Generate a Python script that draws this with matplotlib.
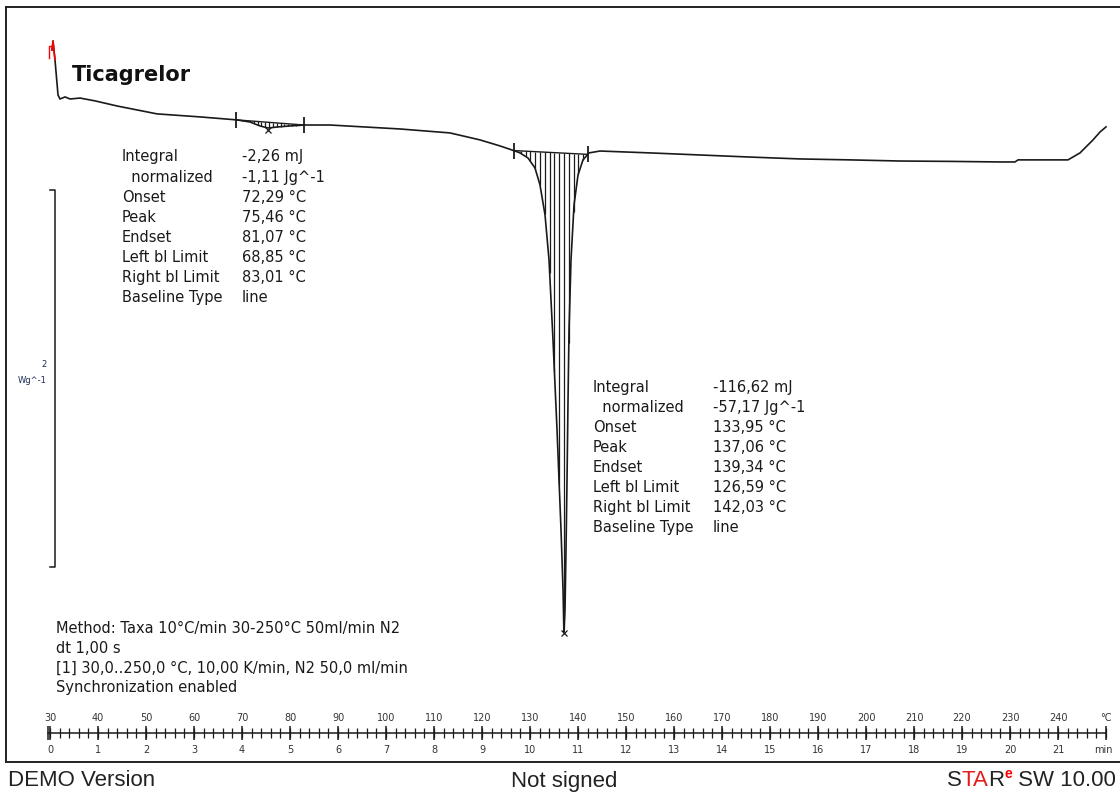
import numpy as np
import matplotlib
matplotlib.use('Agg')
import matplotlib.pyplot as plt

# DSC curve: temperature (°C) and heat flow (W/g)
temp = [30.42, 30.63, 31.04, 31.67, 32.08, 33.13, 34.17, 36.25, 39.38, 43.96,
        52.29, 61.25, 68.96, 71.67, 73.75, 75.46, 77.50, 80.00, 83.13, 88.33,
        102.92, 113.33, 119.58, 123.75, 126.88, 127.92, 129.58, 131.04, 132.08,
        133.13, 133.96, 134.79, 135.63, 136.46, 136.88, 137.06, 137.29, 137.50,
        137.71, 137.92, 138.13, 138.54, 139.17, 140.00, 141.04, 142.29, 144.58,
        155.00, 165.42, 175.83, 186.25, 196.67, 207.08, 217.50, 227.92, 231.04,
        231.67, 242.08, 244.58, 247.29, 248.75, 250.00]
heat_flow = [0.541, 0.589, 0.488, 0.302, 0.281, 0.292, 0.281, 0.286, 0.271, 0.244,
             0.202, 0.186, 0.170, 0.159, 0.138, 0.127, 0.133, 0.138, 0.143, 0.143,
             0.122, 0.101, 0.064, 0.032, 0.005, -0.005, -0.032, -0.085, -0.175,
             -0.334, -0.573, -0.997, -1.475, -2.005, -2.324, -2.546, -2.430, -2.111,
             -1.740, -1.316, -0.944, -0.573, -0.281, -0.122, -0.042, -0.005, 0.005,
             -0.005, -0.016, -0.027, -0.037, -0.042, -0.048, -0.050, -0.053, -0.053,
             -0.042, -0.042, -0.005, 0.064, 0.106, 0.133]

# integration results (left limit, right limit, peak)
peak1 = (68.85, 83.01, 75.46)
peak2 = (126.59, 142.03, 137.06)

labels = ['Integral', '  normalized', 'Onset', 'Peak', 'Endset',
          'Left bl Limit', 'Right bl Limit', 'Baseline Type']
values1 = ['-2,26 mJ', '-1,11 Jg^-1', '72,29 °C', '75,46 °C', '81,07 °C',
           '68,85 °C', '83,01 °C', 'line']
values2 = ['-116,62 mJ', '-57,17 Jg^-1', '133,95 °C', '137,06 °C', '139,34 °C',
           '126,59 °C', '142,03 °C', 'line']
method_lines = ['Method: Taxa 10°C/min 30-250°C 50ml/min N2',
                'dt 1,00 s',
                '[1] 30,0..250,0 °C, 10,00 K/min, N2 50,0 ml/min',
                'Synchronization enabled']

temp_ticks = np.arange(30, 241, 10)
minute_labels = [str(m) for m in range(0, 22)]
scale_bar = 2.0  # W/g

W, H = 1120, 794
fig = plt.figure(figsize=(W / 100, H / 100), dpi=100)
# frame box: left 6px, top 7px, bottom 762px, right edge outside the picture
ax = fig.add_axes([6 / W, (H - 762) / H, 1116 / W, 755 / H])
ax.set_xlim(20.833, 253.33)
ax.set_ylim(-3.236, 0.769)
ax.set_xticks([])
ax.set_yticks([])
for s in ax.spines.values():
    s.set_linewidth(1.4)
    s.set_color('#222222')

ink = '#1a1a1a'
T = np.array(temp)
Q = np.array(heat_flow)

ax.plot(T, Q, color=ink, lw=1.2, solid_joinstyle='round')
ax.plot(T[:3], Q[:3], color='red', lw=1.1)
ax.plot([29.75, 29.75, 30.2], [0.50, 0.56, 0.56], color='red', lw=1.0)


def integrate(ax, left, right, peak, step):
    yl = np.interp(left, T, Q)
    yr = np.interp(right, T, Q)
    ax.plot([left, right], [yl, yr], color=ink, lw=1.0)
    xs = np.arange(left + step / 2, right, step)
    base = yl + (yr - yl) * (xs - left) / (right - left)
    curve = np.interp(xs, T, Q)
    ax.vlines(xs, curve, base, color=ink, lw=0.9)
    ax.plot([left, right], [yl, yr], ls='none', marker='|', ms=11, mew=1.3, color=ink)
    ax.plot([peak], [np.interp(peak, T, Q) - 0.008], ls='none', marker='x', ms=4,
            mew=0.9, color=ink)


integrate(ax, *peak1, step=0.8)
integrate(ax, *peak2, step=1.0)

# scale bar (2 W/g)
bar_top = -0.202
ax.plot([30.0, 31.04, 31.04, 30.0], [bar_top, bar_top, bar_top - scale_bar, bar_top - scale_bar],
        color=ink, lw=1.1)
ax.text(29.3, -1.13, '2', ha='right', va='center', fontsize=6, color='#1a2a55')
ax.text(29.3, -1.21, 'Wg^-1', ha='right', va='center', fontsize=6, color='#1a2a55')

fig.text(72 / W, 1 - 75 / H, 'Ticagrelor', fontsize=15, fontweight='bold',
         color='#111111', va='center', ha='left')


def block(x_lab, x_val, y0, labels, values):
    for i, (l, v) in enumerate(zip(labels, values)):
        y = 1 - (y0 + 20.1 * i) / H
        fig.text(x_lab / W, y, l, fontsize=10.5, color=ink, va='center')
        fig.text(x_val / W, y, v, fontsize=10.5, color=ink, va='center')


block(122, 242, 157, labels, values1)
block(593, 713, 387, labels, values2)

for i, line in enumerate(method_lines):
    fig.text(56 / W, 1 - (629 + 19.6 * i) / H, line, fontsize=10.5, color=ink, va='center')

# time / temperature ruler
xt = ax.get_xaxis_transform()
ry = (762 - 733) / 755
ax.plot([29.6, 250.0], [ry, ry], color=ink, lw=1.1, transform=xt)
minor = np.arange(30, 251, 2)
ax.vlines(minor, ry - 0.006, ry + 0.006, color=ink, lw=0.9, transform=xt)
ax.vlines(temp_ticks, ry - 0.0088, ry + 0.0088, color=ink, lw=1.1, transform=xt)
ax.vlines([29.6, 250.0], ry - 0.0088, ry + 0.0088, color=ink, lw=1.1, transform=xt)
for t, m in zip(temp_ticks, minute_labels):
    ax.text(t, (762 - 718) / 755, str(t), ha='center', va='center', fontsize=7,
            color='#333333', transform=xt)
    ax.text(t, (762 - 750) / 755, m, ha='center', va='center', fontsize=7,
            color='#333333', transform=xt)
ax.text(250.0, (762 - 718) / 755, '°C', ha='center', va='center', fontsize=7,
        color='#333333', transform=xt)
ax.text(249.4, (762 - 750) / 755, 'min', ha='center', va='center', fontsize=7,
        color='#333333', transform=xt)

# footer
foot = dict(fontsize=16, family='Liberation Sans', color='#222222', va='center')
fig.text(8 / W, 1 - 781 / H, 'DEMO Version', ha='left', **foot)
fig.text(564 / W, 1 - 781 / H, 'Not signed', ha='center', **foot)
t_sw = fig.text(1116 / W, 1 - 781 / H, ' SW 10.00', ha='right', **foot)
sw = dict(fontsize=16, family='Liberation Sans', va='bottom', ha='right',
          annotation_clip=False)
t_e = ax.annotate('e', xy=(0, 0.5), xycoords=t_sw, fontsize=10, family='Liberation Sans',
                  fontweight='bold', color='red', va='bottom', ha='right',
                  annotation_clip=False)
t_r = ax.annotate('R', xy=(0, 0), xycoords=(t_e, t_sw), color='#222222', **sw)
t_ta = ax.annotate('TA', xy=(0, 0), xycoords=(t_r, t_sw), color='#e41b1b', **sw)
ax.annotate('S', xy=(0, 0), xycoords=(t_ta, t_sw), color='#222222', **sw)

fig.savefig('out.png', dpi=100)
